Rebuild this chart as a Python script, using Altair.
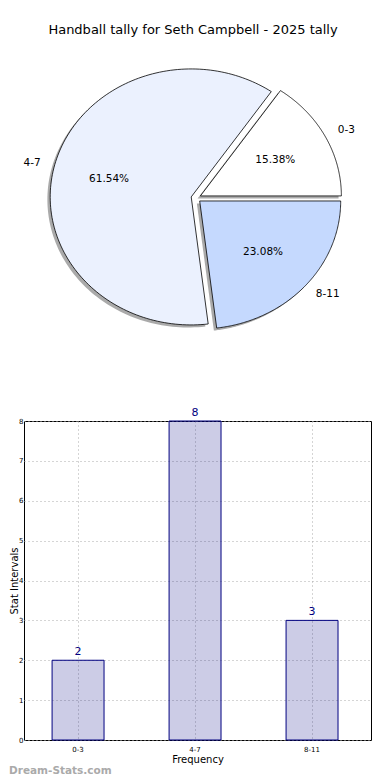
import altair as alt
import numpy as np
import pandas as pd

# ---- data ----
labels = ["0-3", "4-7", "8-11"]
counts = [2, 8, 3]
pie_colors = ["#ffffff", "#ebf1fe", "#c5d9fe"]
title_text = "Handball tally for Seth Campbell - 2025 tally"
y_ticks = [0, 1, 2, 3, 4, 5, 6, 7, 8]

explode = 0.035
shadow_off = -0.02
n_pts = 150

total = sum(counts)
wedge_rows, shadow_rows, lab_rows = [], [], []
start = 0.0
for lab, c in zip(labels, counts):
    frac = c / total
    t1, t2 = start, start + 360.0 * frac
    mid = np.deg2rad((t1 + t2) / 2)
    ox, oy = explode * np.cos(mid), explode * np.sin(mid)
    ang = np.deg2rad(np.linspace(t1, t2, n_pts))
    xs = [ox] + list(ox + np.cos(ang)) + [ox]
    ys = [oy] + list(oy + np.sin(ang)) + [oy]
    for i, (x, y) in enumerate(zip(xs, ys)):
        wedge_rows.append({"label": lab, "i": i, "x": x, "y": y})
        shadow_rows.append({"label": lab, "i": i, "x": x + shadow_off, "y": y + shadow_off})
    lab_rows.append({
        "label": lab,
        "pct": f"{frac * 100:.2f}%",
        "lx": ox + 1.1 * np.cos(mid), "ly": oy + 1.1 * np.sin(mid),
        "px": ox + 0.6 * np.cos(mid), "py": oy + 0.6 * np.sin(mid),
        "side": "right" if np.cos(mid) > 0 else "left",
    })
    start = t2

wedges = pd.DataFrame(wedge_rows)
shadows = pd.DataFrame(shadow_rows)
plabels = pd.DataFrame(lab_rows)
bars = pd.DataFrame({"label": labels, "count": counts})

FONT = "DejaVu Sans"
PW, PH = 347, 330
xs_dom = [-1.2198, 1.2411]
ys_dom = [-1.4297, 1.1485]
xsc = alt.Scale(domain=xs_dom, nice=False, zero=False)
ysc = alt.Scale(domain=ys_dom, nice=False, zero=False)

shadow_layer = alt.Chart(shadows).mark_line(strokeOpacity=0, fillOpacity=0.5).encode(
    x=alt.X("x:Q", scale=xsc, axis=None),
    y=alt.Y("y:Q", scale=ysc, axis=None),
    detail="label:N",
    order="i:Q",
    fill=alt.value("#555555"),
)
wedge_layer = alt.Chart(wedges).mark_line(stroke="black", strokeWidth=0.8).encode(
    x=alt.X("x:Q", scale=xsc, axis=None),
    y=alt.Y("y:Q", scale=ysc, axis=None),
    detail="label:N",
    order="i:Q",
    fill=alt.Fill("label:N", scale=alt.Scale(domain=labels, range=pie_colors), legend=None),
)
lab_right = alt.Chart(plabels).transform_filter("datum.side == 'right'").mark_text(
    align="left", baseline="middle", font=FONT, fontSize=10.5, color="black"
).encode(x=alt.X("lx:Q", scale=xsc, axis=None), y=alt.Y("ly:Q", scale=ysc, axis=None), text="label:N")
lab_left = alt.Chart(plabels).transform_filter("datum.side == 'left'").mark_text(
    align="right", baseline="middle", font=FONT, fontSize=10.5, color="black"
).encode(x=alt.X("lx:Q", scale=xsc, axis=None), y=alt.Y("ly:Q", scale=ysc, axis=None), text="label:N")
pct_layer = alt.Chart(plabels).mark_text(
    align="center", baseline="middle", font=FONT, fontSize=10.5, color="black"
).encode(x=alt.X("px:Q", scale=xsc, axis=None), y=alt.Y("py:Q", scale=ysc, axis=None), text="pct:N")

pie = alt.layer(shadow_layer, wedge_layer, lab_right, lab_left, pct_layer).properties(
    width=PW, height=PH, view=alt.ViewBackground(strokeOpacity=0)
)

BW, BH = 347, 319
xscale = alt.Scale(domain=labels, paddingInner=0.556, paddingOuter=0.261, align=0.46)
yscale = alt.Scale(domain=[0, 8], nice=False)
xaxis = alt.Axis(labelAngle=0, labelFontSize=7, labelFont=FONT, titleFont=FONT, titleFontSize=10,
                 titleFontWeight="normal", grid=True, gridDash=[1, 3], gridColor="#aaaaaa",
                 ticks=False, domain=False, labelPadding=5, titlePadding=2, labelColor="black",
                 titleColor="black")
yaxis = alt.Axis(values=y_ticks, labelOverlap=False, labelFontSize=7, labelFont=FONT,
                 titleFont=FONT, titleFontSize=10, titleFontWeight="normal", grid=True,
                 gridDash=[1, 3], gridColor="#aaaaaa", ticks=False, domain=False, labelPadding=1,
                 titleX=-5, labelColor="black", titleColor="black")
xband = alt.X("label:N", sort=labels, title="Frequency", scale=xscale, axis=xaxis)
yq = alt.Y("count:Q", title="Stat Intervals", scale=yscale, axis=yaxis)

bar_layer = alt.Chart(bars).mark_bar(
    fill="#000080", fillOpacity=0.2, stroke="#000080", strokeWidth=1
).encode(x=xband, y=yq)
val_layer = alt.Chart(bars).mark_text(
    baseline="bottom", dy=-3, font=FONT, fontSize=11, color="#000080"
).encode(x=xband, y=yq, text="count:Q")
wm = alt.Chart(bars).transform_filter("datum.label == '0-3'").mark_text(
    align="left", baseline="middle", font=FONT, fontSize=10.5, fontWeight="bold", color="#aaaaaa",
    text="Dream-Stats.com"
).encode(x=alt.value(-15), y=alt.value(BH + 31))

barchart = alt.layer(bar_layer, val_layer, wm).properties(
    width=BW, height=BH, view=alt.ViewBackground(stroke="black", strokeWidth=1)
)

chart = alt.vconcat(pie, barchart, spacing=40, bounds="flush").properties(
    title=alt.TitleParams(title_text, font=FONT, fontSize=13, fontWeight="normal", anchor="middle",
                          color="black", offset=14, dx=3),
    padding={"left": 0, "top": 16, "right": 0, "bottom": 0},
).configure(background="white")

chart.save("out.html", embed_options={"renderer": "svg", "actions": False})
